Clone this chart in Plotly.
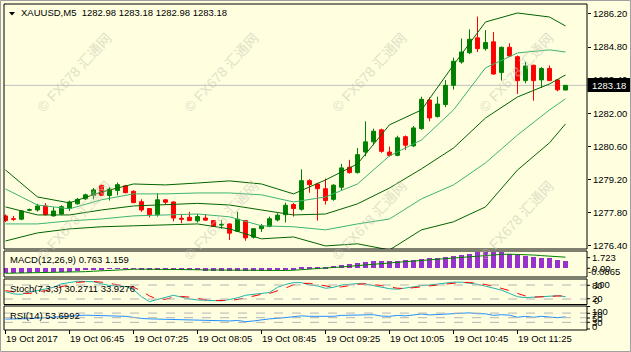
import plotly.graph_objects as go

# ---------------- data ----------------
time_labels = ["19 Oct 2017", "19 Oct 06:45", "19 Oct 07:25", "19 Oct 08:05", "19 Oct 08:45",
               "19 Oct 09:25", "19 Oct 10:05", "19 Oct 10:45", "19 Oct 11:25"]
time_label_idx = [0, 8, 16, 24, 32, 40, 48, 56, 64]

opens = [1277.66, 1277.54, 1277.52, 1277.90, 1277.91, 1278.08, 1277.66, 1277.74, 1277.97, 1278.17,
         1278.38, 1278.53, 1278.95, 1278.52, 1278.73, 1278.93, 1278.70, 1278.26, 1277.97, 1277.71,
         1278.34, 1278.25, 1277.56, 1277.60, 1277.45, 1277.57, 1277.46, 1277.27, 1277.32, 1277.01,
         1277.46, 1276.76, 1277.12, 1277.21, 1277.49, 1277.71, 1278.14, 1277.94, 1279.15, 1279.01,
         1278.81, 1278.36, 1278.87, 1279.72, 1279.49, 1280.36, 1280.79, 1281.30, 1280.36, 1280.22,
         1281.01, 1280.62, 1281.35, 1282.56, 1281.86, 1282.37, 1283.18, 1284.17, 1284.56, 1285.19,
         1284.73, 1285.02, 1283.72, 1284.79, 1284.39, 1283.38, 1284.03, 1283.41, 1283.89, 1283.41,
         1282.98]
highs = [1277.72, 1277.66, 1277.90, 1277.97, 1278.17, 1278.20, 1278.03, 1278.11, 1278.31, 1278.42,
         1278.60, 1278.84, 1278.98, 1278.87, 1279.07, 1278.97, 1278.74, 1278.36, 1277.99, 1278.62,
         1278.36, 1278.27, 1277.71, 1277.83, 1277.74, 1277.74, 1277.48, 1277.49, 1277.34, 1277.83,
         1277.48, 1277.14, 1277.32, 1277.63, 1277.77, 1278.22, 1278.20, 1279.63, 1279.21, 1279.06,
         1279.24, 1279.00, 1279.86, 1280.03, 1280.53, 1281.66, 1281.35, 1281.35, 1280.59, 1281.05,
         1281.06, 1281.46, 1282.70, 1282.67, 1282.70, 1283.40, 1284.35, 1285.16, 1285.55, 1286.09,
         1285.52, 1285.44, 1284.82, 1284.96, 1284.44, 1284.17, 1284.05, 1283.95, 1284.02, 1283.45,
         1283.18]
lows = [1277.40, 1277.45, 1277.48, 1277.86, 1277.84, 1277.68, 1277.63, 1277.70, 1277.87, 1278.14,
        1278.34, 1278.36, 1278.50, 1278.31, 1278.53, 1278.62, 1278.20, 1277.83, 1277.60, 1277.63,
        1278.14, 1277.43, 1277.35, 1277.44, 1277.38, 1277.46, 1277.19, 1277.12, 1276.64, 1276.98,
        1276.61, 1276.70, 1276.98, 1277.18, 1277.43, 1277.38, 1277.63, 1277.88, 1278.64, 1277.46,
        1278.14, 1278.30, 1278.73, 1279.45, 1279.45, 1280.18, 1280.65, 1280.33, 1280.17, 1280.18,
        1280.45, 1280.58, 1281.30, 1281.66, 1281.82, 1282.26, 1283.00, 1284.10, 1284.50, 1284.59,
        1284.65, 1283.63, 1283.38, 1284.40, 1282.82, 1283.27, 1282.53, 1283.07, 1283.36, 1282.93,
        1282.98]
closes = [1277.46, 1277.52, 1277.87, 1277.92, 1278.08, 1277.71, 1277.87, 1278.05, 1278.25, 1278.36,
          1278.55, 1278.76, 1278.53, 1278.79, 1278.98, 1278.64, 1278.22, 1277.91, 1277.71, 1278.34,
          1278.24, 1277.57, 1277.52, 1277.46, 1277.63, 1277.48, 1277.21, 1277.30, 1276.93, 1277.52,
          1276.73, 1277.12, 1277.24, 1277.54, 1277.69, 1278.11, 1277.97, 1279.15, 1278.98, 1278.81,
          1278.31, 1278.96, 1279.69, 1279.49, 1280.25, 1280.79, 1281.24, 1280.39, 1280.22, 1280.96,
          1280.65, 1281.38, 1282.59, 1281.80, 1282.39, 1283.18, 1284.20, 1284.59, 1285.13, 1284.73,
          1284.99, 1283.66, 1284.79, 1284.42, 1283.38, 1284.00, 1283.38, 1283.89, 1283.38, 1282.99,
          1283.18]

band_idx = [0, 4, 8, 12, 16, 20, 24, 28, 32, 36, 40, 44, 48, 52, 56, 60, 64, 68, 70]
band_upper_outer = [1279.60, 1278.46, 1278.21, 1278.67, 1279.01, 1278.97, 1279.05, 1279.14, 1279.01, 1278.59,
                    1279.18, 1279.86, 1281.51, 1282.14, 1284.04, 1285.86, 1286.24, 1286.07, 1285.69]
band_upper_inner = [1278.80, 1278.12, 1277.96, 1278.34, 1278.59, 1278.59, 1278.63, 1278.63, 1278.55, 1278.25,
                    1278.46, 1279.01, 1280.20, 1280.87, 1282.14, 1283.92, 1284.55, 1284.68, 1284.59]
band_middle = [1278.04, 1277.70, 1277.70, 1277.91, 1278.08, 1278.15, 1278.19, 1278.12, 1277.91, 1277.70,
               1277.74, 1278.17, 1278.84, 1279.65, 1280.53, 1281.80, 1282.69, 1283.24, 1283.62]
band_lower_inner = [1277.32, 1277.32, 1277.45, 1277.53, 1277.66, 1277.70, 1277.74, 1277.62, 1277.24, 1277.20,
                    1277.07, 1277.32, 1277.53, 1278.38, 1278.97, 1279.90, 1281.08, 1282.14, 1282.61]
band_lower_outer = [1276.60, 1276.94, 1277.11, 1277.20, 1277.24, 1277.28, 1277.32, 1277.11, 1276.69, 1276.77,
                    1276.39, 1276.48, 1276.22, 1277.07, 1277.41, 1278.04, 1279.60, 1280.75, 1281.55]

macd_hist = [-0.45, -0.45, -0.44, -0.44, -0.43, -0.42, -0.40, -0.38, -0.34, -0.28,
             -0.22, -0.16, -0.10, -0.07, -0.05, -0.05, -0.07, -0.10, -0.13, -0.13,
             -0.14, -0.16, -0.18, -0.20, -0.22, -0.24, -0.26, -0.27, -0.30, -0.30,
             -0.32, -0.32, -0.30, -0.27, -0.22, -0.16, -0.10, 0.05, 0.10, 0.12,
             0.13, 0.27, 0.34, 0.41, 0.52, 0.62, 0.76, 0.76, 0.76, 0.76,
             0.83, 0.90, 0.97, 1.04, 1.10, 1.18, 1.31, 1.38, 1.52, 1.66,
             1.66, 1.66, 1.66, 1.46, 1.38, 1.24, 1.18, 1.10, 1.04, 0.90,
             0.763]
macd_signal = [-0.52, -0.51, -0.50, -0.49, -0.48, -0.47, -0.46, -0.44, -0.42, -0.39,
               -0.35, -0.30, -0.25, -0.20, -0.15, -0.12, -0.10, -0.09, -0.09, -0.10,
               -0.11, -0.12, -0.13, -0.14, -0.15, -0.17, -0.18, -0.19, -0.21, -0.22,
               -0.24, -0.25, -0.26, -0.26, -0.25, -0.23, -0.20, -0.15, -0.10, -0.05,
               0.00, 0.05, 0.12, 0.20, 0.28, 0.36, 0.42, 0.48, 0.55, 0.62,
               0.69, 0.75, 0.82, 0.88, 0.95, 1.02, 1.08, 1.15, 1.22, 1.30,
               1.36, 1.42, 1.45, 1.47, 1.46, 1.42, 1.38, 1.32, 1.26, 1.20,
               1.159]

stoch_main = [51, 42, 40, 50, 56, 62, 70, 85, 92, 96, 95, 94, 85, 78, 76, 74, 60, 30, 9, 18,
              30, 36, 28, 20, 16, 14, 12, 12, 18, 25, 36, 40, 44, 48, 70, 82, 90, 90, 80, 76,
              66, 70, 80, 84, 86, 84, 78, 73, 64, 62, 68, 72, 77, 80, 84, 90, 92, 92, 88, 83,
              75, 66, 58, 44, 30, 26, 28, 31, 34, 34, 30.2711]
stoch_signal = [56, 50, 45, 44, 49, 56, 63, 72, 82, 91, 94, 95, 92, 86, 80, 76, 70, 55, 33, 19,
                19, 28, 31, 28, 21, 17, 14, 13, 14, 18, 26, 34, 40, 44, 54, 67, 81, 87, 87, 82,
                74, 71, 72, 78, 83, 85, 83, 78, 72, 66, 65, 67, 72, 76, 80, 85, 89, 91, 91, 88,
                82, 75, 66, 56, 44, 33, 28, 28, 31, 33, 33.9276]

rsi = [44, 44, 45, 46, 48, 50, 53, 56, 58, 60, 61, 60, 58, 58, 57, 56, 50, 47, 45, 44,
       44, 42, 40, 40, 41, 40, 38, 38, 36, 38, 33, 36, 42, 45, 47, 50, 53, 58, 56, 55,
       54, 56, 60, 61, 63, 64, 63, 57, 56, 60, 58, 62, 66, 62, 64, 67, 70, 70, 71, 67,
       67, 60, 63, 61, 52, 56, 52, 56, 54, 50, 53.6992]

price_ticks = [1286.20, 1284.80, 1283.40, 1282.00, 1280.60, 1279.20, 1277.80, 1276.40]
last_price = 1283.18
symbol = "XAUUSD,M5"
header_ohlc = [1282.98, 1283.18, 1282.98, 1283.18]
watermark = "© FX678 汇通网"

# ---------------- layout helpers ----------------
W, H = 631, 352
ML, MR, MT, MB = 4, 44, 4, 22
PW, PH = W - ML - MR, H - MT - MB
BOT = H - MB


def fx(p):
    return (p - ML) / PW


def fy(p):
    return (BOT - p) / PH


BG = "#FFFFE0"
FONT = "Liberation Sans"
FS = 9.5
NB = "\u00a0"
n = len(closes)
xs = list(range(n))

dom_main = [fy(249), fy(MT)]
dom_macd = [fy(277), fy(251)]
dom_stoch = [fy(304.5), fy(279)]
dom_rsi = [fy(BOT), fy(306)]

fig = go.Figure()

band_specs = [(band_upper_outer, "#006400"), (band_upper_inner, "#3CB371"), (band_middle, "#006400"),
              (band_lower_inner, "#3CB371"), (band_lower_outer, "#006400")]
for vals, col in band_specs:
    fig.add_trace(go.Scatter(x=band_idx, y=vals, mode="lines", line=dict(color=col, width=1),
                             hoverinfo="skip", showlegend=False, xaxis="x", yaxis="y"))

fig.add_trace(go.Candlestick(x=xs, open=opens, high=highs, low=lows, close=closes,
                             increasing=dict(line=dict(color="#008000", width=1), fillcolor="#008000"),
                             decreasing=dict(line=dict(color="#FF0000", width=1), fillcolor="#FF0000"),
                             whiskerwidth=0, showlegend=False, xaxis="x", yaxis="y"))

fig.add_trace(go.Bar(x=xs, y=macd_hist, marker=dict(color="#9932CC", line=dict(width=0)), width=0.6,
                     showlegend=False, xaxis="x", yaxis="y2"))
fig.add_trace(go.Scatter(x=xs, y=macd_signal, mode="lines", line=dict(color="#008000", width=1),
                         showlegend=False, xaxis="x", yaxis="y2"))

fig.add_trace(go.Scatter(x=xs, y=stoch_main, mode="lines", line=dict(color="#20B2AA", width=1),
                         showlegend=False, xaxis="x", yaxis="y3"))
fig.add_trace(go.Scatter(x=xs, y=stoch_signal, mode="lines", line=dict(color="#FF0000", width=1, dash="dash"),
                         showlegend=False, xaxis="x", yaxis="y3"))

fig.add_trace(go.Scatter(x=xs, y=rsi, mode="lines", line=dict(color="#1E90FF", width=1),
                         showlegend=False, xaxis="x", yaxis="y4"))

xr = [-0.1875, -0.1875 + PW / 8.0]
ax_common = dict(showgrid=False, zeroline=False, showline=False, fixedrange=True)

fig.update_layout(
    width=W, height=H, margin=dict(l=ML, r=MR, t=MT, b=MB),
    paper_bgcolor=BG, plot_bgcolor=BG, showlegend=False, bargap=0,
    font=dict(family=FONT, size=FS, color="black"),
    xaxis=dict(range=xr, showticklabels=False, ticks="", anchor="y4", rangeslider=dict(visible=False), **ax_common),
    yaxis=dict(domain=dom_main, range=[1276.26, 1286.62], side="right", anchor="x",
               tickvals=price_ticks, ticktext=[f"{v:.2f}" for v in price_ticks],
               ticks="outside", ticklen=3, tickcolor="black", tickfont=dict(family=FONT, size=FS), **ax_common),
    yaxis2=dict(domain=dom_macd, range=[-0.906, 1.80], showticklabels=False, anchor="x", **ax_common),
    yaxis3=dict(domain=dom_stoch, range=[-3.4, 105.6], showticklabels=False, anchor="x", **ax_common),
    yaxis4=dict(domain=dom_rsi, range=[-3.0, 100.5], showticklabels=False, anchor="x", **ax_common),
)

shapes = []
for lv in [80, 20]:
    shapes.append(dict(type="line", xref="paper", yref="y3", x0=0, x1=1, y0=lv, y1=lv,
                       line=dict(color="#B4B4B4", width=1, dash="dash")))
for lv in [70, 50, 30]:
    shapes.append(dict(type="line", xref="paper", yref="y4", x0=0, x1=1, y0=lv, y1=lv,
                       line=dict(color="#B4B4B4", width=1, dash="dash")))
shapes.append(dict(type="line", xref="paper", yref="y", x0=0, x1=1, y0=last_price, y1=last_price,
                   line=dict(color="#C0C0C0", width=1), layer="below"))
for d in [dom_main, dom_macd, dom_stoch, dom_rsi]:
    shapes.append(dict(type="rect", xref="paper", yref="paper", x0=0, x1=1, y0=d[0], y1=d[1],
                       line=dict(color="black", width=1), fillcolor="rgba(0,0,0,0)"))
for i in time_label_idx:
    shapes.append(dict(type="line", xref="x", yref="paper", x0=i, x1=i, y0=0, y1=fy(BOT + 4),
                       line=dict(color="black", width=1)))
for yy in [257.7, 268.3, 285.3, 298.7, 306.5, 313.3, 318, 322.3, 329]:
    shapes.append(dict(type="line", xref="paper", yref="paper", x0=1, x1=fx(590), y0=fy(yy), y1=fy(yy),
                       line=dict(color="black", width=1)))
shapes.append(dict(type="path", xref="paper", yref="paper",
                   path=f"M {fx(9)} {fy(12)} L {fx(15)} {fy(12)} L {fx(12)} {fy(15.5)} Z",
                   fillcolor="black", line=dict(color="black", width=0)))
shapes.append(dict(type="rect", xref="paper", yref="paper", x0=fx(587.5), x1=fx(630), y0=fy(92), y1=fy(78),
                   fillcolor="black", line=dict(width=0)))
shapes.append(dict(type="rect", xref="paper", yref="paper", x0=fx(0.5), x1=fx(630.5), y0=fy(351.5), y1=fy(0.5),
                   line=dict(color="#A0A0A0", width=1), fillcolor="rgba(0,0,0,0)"))
fig.update_layout(shapes=shapes)

ann = []


def add_text(txt, xp, yp, color="black", anchor="left"):
    ann.append(dict(text=txt, xref="paper", yref="paper", x=fx(xp), y=fy(yp), xanchor=anchor, yanchor="middle",
                    showarrow=False, font=dict(family=FONT, size=FS, color=color)))


for cx in [74, 221, 369, 516]:
    for cy in [73, 221]:
        ann.append(dict(text=watermark, xref="paper", yref="paper", x=fx(cx), y=fy(cy),
                        xanchor="center", yanchor="middle", textangle=-47, showarrow=False,
                        font=dict(family="Liberation Sans, Noto Sans CJK SC", size=14, color="#C8C8B4"),
                        opacity=0.55))

title_text = symbol + NB + NB + NB.join(f"{v:.2f}" for v in header_ohlc)
add_text(title_text, 19, 12.5)
add_text("MACD(12,26,9)" + NB + "0.763" + NB + "1.159", 8, 259.5)
add_text("Stoch(7,3,3)" + NB + "30.2711" + NB + "33.9276", 8, 288)
add_text("RSI(14)" + NB + "53.6992", 8, 315.5)
add_text(f"{last_price:.2f}", 590, 85, color="white")
add_text("1.723", 590, 257.7)
add_text("0.00", 590, 268.3)
add_text("-0.0865", 586, 271.5)
add_text("80", 590, 285.3)
add_text("100", 592, 284.3)
add_text("20", 590, 298.7)
add_text("0", 592, 300.5)
add_text("100", 590, 311)
add_text("70", 590, 314.5)
add_text("50", 590, 318)
add_text("30", 590, 322.3)
add_text("0", 590, 326)

for lbl, i in zip(time_labels, time_label_idx):
    ann.append(dict(text=lbl.replace(" ", NB), xref="x", yref="paper", x=i, y=fy(338.5), xanchor="left",
                    yanchor="middle", xshift=-2, showarrow=False, font=dict(family=FONT, size=FS, color="black")))

fig.update_layout(annotations=ann)
fig.write_html("out.html")
